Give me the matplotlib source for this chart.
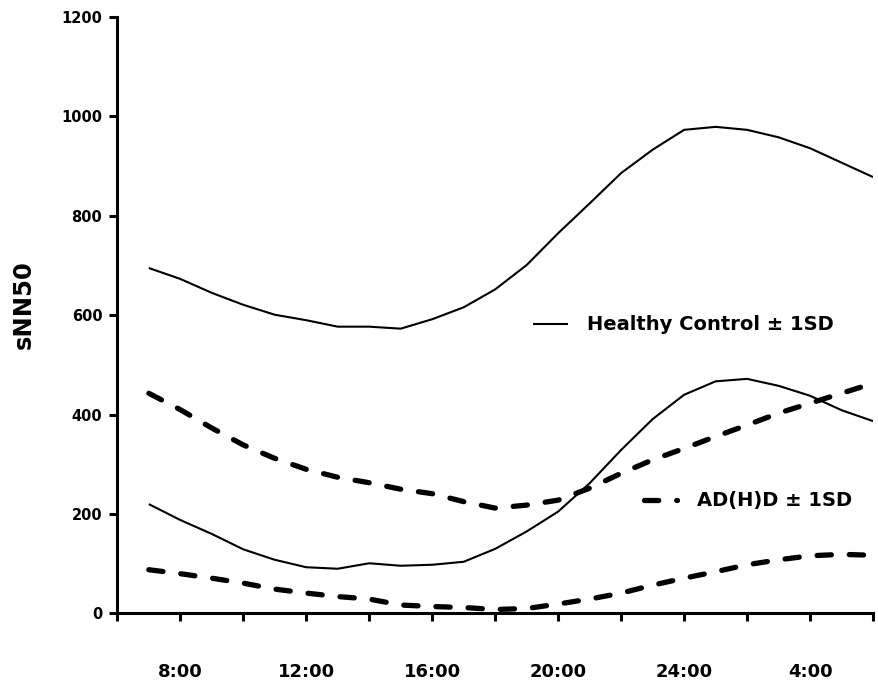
import numpy as np
import matplotlib.pyplot as plt
from matplotlib.lines import Line2D


# =============================
# DATA (hourly means +/- 1SD)
# =============================

hours = list(range(7, 31))  # 7:00 .. 6:00 next day

hc_upper = [695, 673, 645, 621, 601, 590, 577, 577, 573, 592, 616, 652,
            701, 765, 825, 886, 933, 973, 979, 973, 958, 936, 907, 878]
hc_lower = [220, 188, 160, 129, 108, 93, 90, 101, 96, 98, 104, 130,
            165, 205, 262, 329, 391, 440, 467, 472, 458, 438, 409, 387]

adhd_upper = [443, 410, 373, 339, 312, 290, 274, 263, 250, 241, 225, 212,
              218, 228, 252, 282, 309, 332, 356, 379, 403, 423, 443, 463]
adhd_lower = [88, 80, 71, 61, 49, 41, 34, 29, 17, 14, 12, 8,
              10, 19, 29, 41, 57, 71, 84, 98, 108, 116, 119, 117]

x_ticks = list(range(6, 31, 2))
x_ticklabels = ["", "8:00", "", "12:00", "", "16:00", "", "20:00",
                "", "24:00", "", "4:00", ""]
y_ticks = [0, 200, 400, 600, 800, 1000, 1200]

hc_label = "Healthy Control ± 1SD"
adhd_label = "AD(H)D ± 1SD"


# =============================
# FIGURE
# =============================

plt.rcParams["font.family"] = ["DejaVu Sans"]
plt.rcParams["font.weight"] = "bold"

fig = plt.figure(figsize=(8.79, 6.83), dpi=100)
ax = fig.add_axes([0.1335, 0.1018, 0.8597, 0.8733])

solid_kw = dict(color="black", linewidth=1.5, solid_capstyle="butt")
dash_kw = dict(color="black", linewidth=3.8, linestyle=(0, (2.7, 3.4)),
               dash_capstyle="round")

ax.plot(hours, hc_upper, **solid_kw)
ax.plot(hours, hc_lower, **solid_kw)
ax.plot(hours, adhd_upper, **dash_kw)
ax.plot(hours, adhd_lower, **dash_kw)

ax.set_xlim(6, 30)
ax.set_ylim(0, 1200)

for side in ["top", "right"]:
    ax.spines[side].set_visible(False)
for side in ["left", "bottom"]:
    ax.spines[side].set_linewidth(2.2)

ax.set_xticks(x_ticks)
ax.set_xticklabels(x_ticklabels, fontsize=13, fontweight="bold")
ax.set_yticks(y_ticks)
ax.set_yticklabels([str(v) for v in y_ticks], fontsize=10.5, fontweight="bold")

ax.tick_params(axis="x", direction="out", length=6, width=2.2, pad=30)
ax.tick_params(axis="y", direction="out", length=5.8, width=2.2, pad=5)

ax.set_ylabel("sNN50", fontsize=17.5, fontweight="bold", va="center")
ax.yaxis.set_label_coords(-0.1235, 0.517)


# =============================
# LEGEND ENTRIES
# =============================

hc_handle = Line2D([], [], **solid_kw)
adhd_handle = Line2D([], [], **dash_kw)

leg1 = ax.legend([hc_handle], [hc_label], loc="center left",
                 bbox_to_anchor=(0.550, 0.4837), frameon=False,
                 borderpad=0, borderaxespad=0, handlelength=1.8,
                 handletextpad=1.0, prop=dict(size=14, weight="bold"))
ax.add_artist(leg1)

ax.legend([adhd_handle], [adhd_label], loc="center left",
          bbox_to_anchor=(0.697, 0.1886), frameon=False,
          borderpad=0, borderaxespad=0, handlelength=1.7,
          handletextpad=1.0, prop=dict(size=14, weight="bold"))

fig.savefig("out.png", dpi=100)
